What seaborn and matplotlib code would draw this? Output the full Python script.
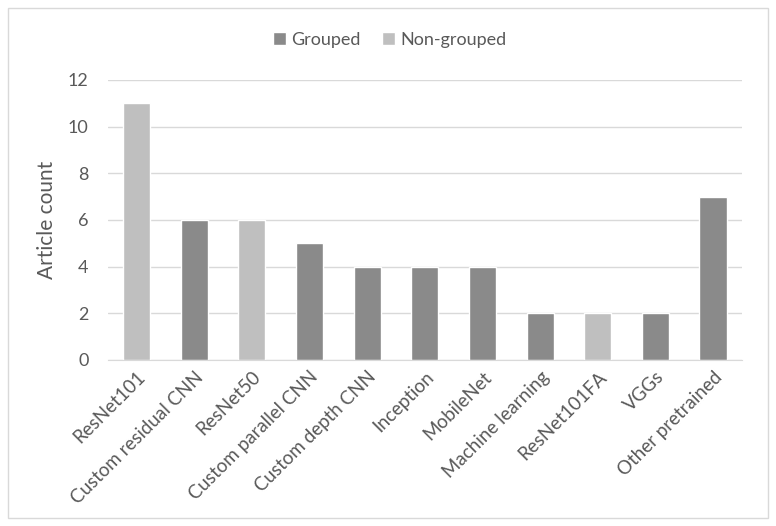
import matplotlib.pyplot as plt
import seaborn as sns
import pandas as pd

# data
models = ["ResNet101", "Custom residual CNN", "ResNet50", "Custom parallel CNN",
          "Custom depth CNN", "Inception", "MobileNet", "Machine learning",
          "ResNet101FA", "VGGs", "Other pretrained"]
counts = [11, 6, 6, 5, 4, 4, 4, 2, 2, 2, 7]
groups = ["Non-grouped", "Grouped", "Non-grouped", "Grouped", "Grouped", "Grouped",
          "Grouped", "Grouped", "Non-grouped", "Grouped", "Grouped"]

df = pd.DataFrame({"model": models, "count": counts, "group": groups})

sns.set_style("white")
plt.rcParams['font.family'] = ['Lato', 'DejaVu Sans']
txt = "#595959"

fig = plt.figure(figsize=(7.76, 5.26), dpi=100)
ax = fig.add_axes([0.139, 0.316, 0.817, 0.532])

palette = {"Grouped": "#8a8a8a", "Non-grouped": "#bfbfbf"}
sns.barplot(data=df, x="model", y="count", hue="group", hue_order=["Grouped", "Non-grouped"],
            palette=palette, dodge=False, width=0.47, ax=ax, legend=True)

ax.set_ylim(0, 12)
ax.set_yticks(range(0, 13, 2))
ax.set_xlim(-0.5, len(models) - 0.5)
ax.yaxis.grid(True, color="#d9d9d9", linewidth=1)
ax.set_axisbelow(True)
for s in ["top", "right", "left"]:
    ax.spines[s].set_visible(False)
ax.spines["bottom"].set_color("#d9d9d9")
ax.tick_params(axis="both", length=0, colors=txt)
ax.tick_params(axis="y", pad=14, labelsize=13)
ax.tick_params(axis="x", pad=6, labelsize=13.5)
plt.setp(ax.get_xticklabels(), rotation=45, ha="right", rotation_mode="anchor")
ax.set_xlabel("")
ax.set_ylabel("Article count", color=txt, fontsize=15, labelpad=8)

ax.legend(loc="upper center", bbox_to_anchor=(0.445, 1.23), ncol=2, frameon=False,
          fontsize=13, labelcolor=txt, handlelength=0.7, handleheight=0.7,
          columnspacing=1.2, handletextpad=0.3)

# figure border
fig.patches.append(plt.Rectangle((0.01, 0.015), 0.98, 0.97, transform=fig.transFigure,
                                 fill=False, edgecolor="#d9d9d9", linewidth=1))

fig.savefig("out.png", dpi=100)
